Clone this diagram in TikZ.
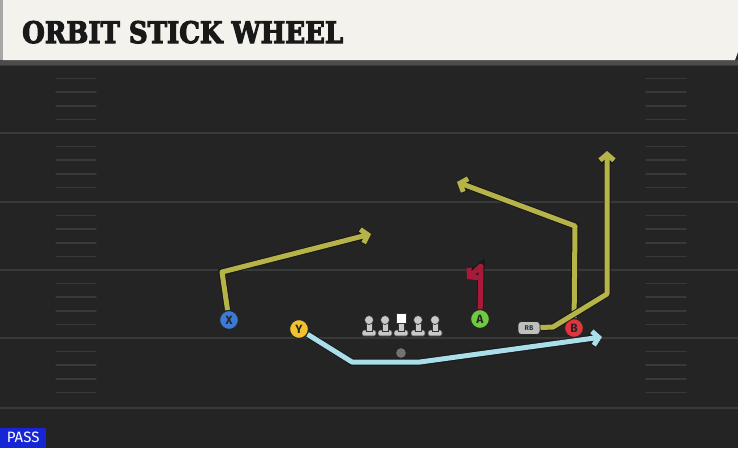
\documentclass[tikz,border=0pt]{standalone}
\usepackage{fontspec}
\setmainfont{Fira Sans}
\newfontfamily\titlefont{DejaVu Serif}[BoldFeatures={FakeBold=4}]
\usetikzlibrary{arrows.meta}
\definecolor{turf}{HTML}{242424}
\definecolor{cream}{HTML}{F4F2EC}
\definecolor{stripe}{HTML}{393939}
\definecolor{olive}{HTML}{B6B449}
\definecolor{sky}{HTML}{A9DEEA}
\definecolor{crimson}{HTML}{A8193A}
\definecolor{xblue}{HTML}{3C7AD6}
\definecolor{yyellow}{HTML}{F1C22F}
\definecolor{agreen}{HTML}{6DCB3D}
\definecolor{bred}{HTML}{E0343E}
\definecolor{passblue}{HTML}{1626D6}
\definecolor{lineman}{HTML}{C9C9C9}
\tikzset{
	player/.style={circle, draw=black!85, line width=1.2pt, fill=#1, minimum size=19pt,
		inner sep=0pt, text=black!85, font=\bfseries\fontsize{12}{12}\selectfont},
	route/.style={draw=#1, line width=5pt, line join=round,
		-{Straight Barb[length=6pt,width=14pt]},
		preaction={draw=black!90, line width=7pt}},
	yardline/.style={draw=stripe, line width=2pt},
	hash/.style={draw=stripe, line width=1.5pt, line cap=round}
}
\begin{document}
\begin{tikzpicture}[x=1pt,y=-1pt]
	\useasboundingbox (0,0) rectangle (738,448);
	\fill[turf] (0,0) rectangle (738,448);

	\foreach \y in {65,133,202,270,338,408}
		\draw[yardline] (0,\y) -- (738,\y);
	\foreach \y in {65,133,202,270,338}
		\foreach \k in {1,...,4}{
			\draw[hash] (56,\y+\k*13.6) -- (96,\y+\k*13.6);
			\draw[hash] (646,\y+\k*13.6) -- (686,\y+\k*13.6);
		}

	\fill[black!70] (0,60) rectangle (738,65);
	\fill[black!35] (0,0) rectangle (3,60);
	\fill[cream] (3,0) -- (738,0) -- (738,52) -- (735,60) -- (3,60) -- cycle;
	\node[anchor=base west, inner sep=0pt, text=black!90] (title) at (22,43)
		{\resizebox{321pt}{22pt}{\titlefont\bfseries ORBIT STICK WHEEL}};

	\foreach \x in {369,385,418,435}{
		\fill[lineman, draw=black!80, line width=.7pt, rounded corners=1.5pt]
			(\x-7,336) rectangle (\x+7,330);
		\fill[lineman, draw=black!80, line width=.7pt] (\x-3,331) rectangle (\x+3,322);
		\fill[lineman, draw=black!80, line width=.7pt] (\x,320) circle (4.5);
	}
	\fill[lineman, draw=black!80, line width=.7pt, rounded corners=1.5pt]
		(394,336) rectangle (408,330);
	\fill[lineman, draw=black!80, line width=.7pt] (398,331) rectangle (404,323);
	\fill[white, draw=black!80, line width=.7pt] (396,313) rectangle (406,323);
	\fill[black!55] (401,353) circle (4.8);

	\node[player=xblue] (X) at (229,320) {X};
	\node[player=yyellow] (Y) at (299,329) {Y};
	\node[player=agreen] (A) at (480,319) {A};
	\node[player=bred] (B) at (574,328) {B};
	\node[draw=black!85, fill=black!25, rounded corners=3pt, line width=.9pt,
		minimum width=22pt, minimum height=13pt, inner sep=0pt, text=black!80,
		font=\bfseries\fontsize{7}{7}\selectfont] (RB) at (529,328) {RB};

	\coordinate (Xend) at (371,234);
	\coordinate (Yend) at (602,337);
	\coordinate (Aend) at (467,279);
	\coordinate (Bend) at (457,182);
	\coordinate (RBend) at (607,151);

	\draw[route=olive] (X) -- (222,272) -- (Xend);
	\draw[route=olive] (B) -- (575,226) -- (Bend);
	\draw[route=olive] (RB) -- (553,327) -- (607,294) -- (RBend);
	\draw[route=sky] (Y) -- (352,362) -- (420,362) -- (Yend);
	\draw[route=crimson] (A) -- (481,266) -- (Aend);

	\node[anchor=south west, fill=passblue, text=white, minimum width=46pt,
		minimum height=20pt, inner sep=0pt, font=\fontsize{15}{15}\selectfont]
		(pass) at (0,448) {PASS};
\end{tikzpicture}
\end{document}
